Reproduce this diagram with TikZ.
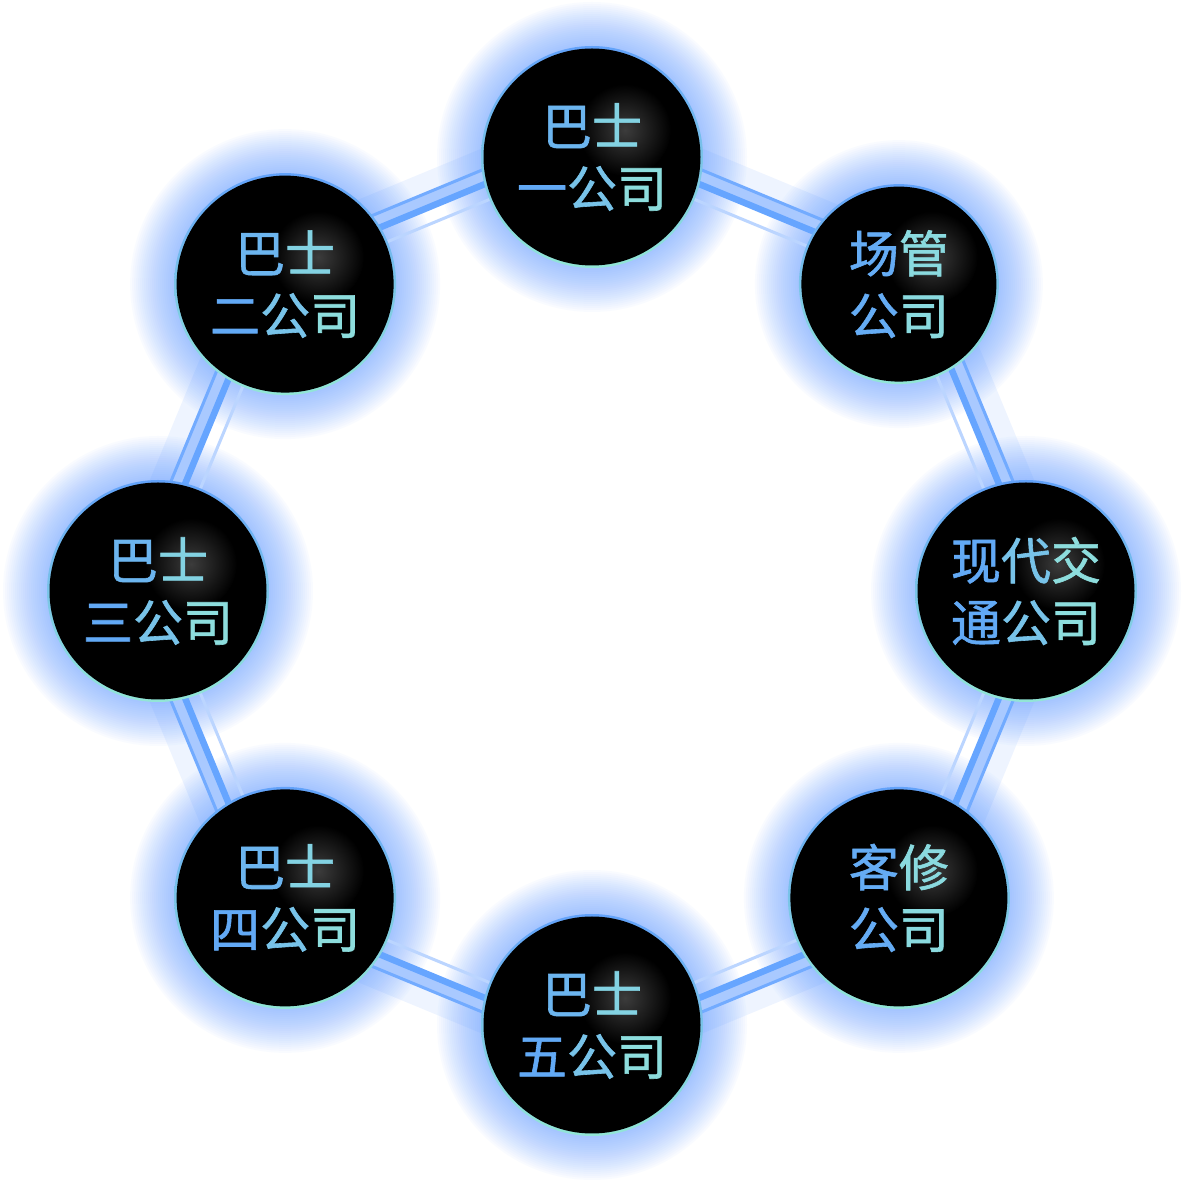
\documentclass[tikz,border=0pt]{standalone}
\usepackage{fontspec}
\newfontfamily\cjk{Noto Sans CJK SC}[FakeBold=1.2]
\usetikzlibrary{calc}
\pgfdeclarelayer{glow}
\pgfdeclarelayer{band}
\pgfsetlayers{glow,band,main}
\definecolor{glowblue}{HTML}{5C9BFF}
\definecolor{thickblue}{HTML}{66A5FF}
\definecolor{thinblue}{HTML}{72ABFF}
\definecolor{lightline}{HTML}{BBD5FF}
\definecolor{bandfill}{HTML}{A9C9FF}
\definecolor{txtblue}{HTML}{60A6F6}
\definecolor{txtteal}{HTML}{8FE0DC}
\definecolor{ringtop}{HTML}{62A2FA}
\definecolor{ringbot}{HTML}{92E6D6}
\definecolor{hilite}{HTML}{3C3C3C}
\newcommand\grad[2]{\textcolor{txtteal!#1!txtblue}{#2}}
\tikzset{
  label text/.style={circle,inner sep=0pt,align=center,
    font=\cjk\fontsize{50}{62}\selectfont},
  glowring/.style={fill=glowblue,opacity=.03},
  bandfillstyle/.style={fill=bandfill},
  thinline/.style={draw=thinblue,line width=3pt},
  thickline/.style={draw=thickblue,line width=6.5pt},
  innerline/.style={draw=lightline,line width=3pt},
}
\begin{document}
\begin{tikzpicture}[x=1pt,y=1pt]
\useasboundingbox (0,0) rectangle (1184,1184);
\begin{pgfonlayer}{glow}
\fill[white] (0,0) rectangle (1184,1184);
\end{pgfonlayer}
\coordinate (C) at (592,593);
\foreach \i/\a/\r/\lbl in {
  0/90/111/{\grad{25}{巴}\grad{75}{士}\\\grad{5}{一}\grad{50}{公}\grad{95}{司}},
  1/45/100/{\grad{10}{场}\grad{90}{管}\\\grad{10}{公}\grad{90}{司}},
  2/0/111/{\grad{5}{现}\grad{50}{代}\grad{95}{交}\\\grad{5}{通}\grad{50}{公}\grad{95}{司}},
  3/-45/111/{\grad{10}{客}\grad{90}{修}\\\grad{10}{公}\grad{90}{司}},
  4/-90/111/{\grad{25}{巴}\grad{75}{士}\\\grad{5}{五}\grad{50}{公}\grad{95}{司}},
  5/-135/111/{\grad{25}{巴}\grad{75}{士}\\\grad{5}{四}\grad{50}{公}\grad{95}{司}},
  6/180/111/{\grad{25}{巴}\grad{75}{士}\\\grad{5}{三}\grad{50}{公}\grad{95}{司}},
  7/135/111/{\grad{25}{巴}\grad{75}{士}\\\grad{5}{二}\grad{50}{公}\grad{95}{司}}}{
  \coordinate (p) at ($(C)+(\a:434)$);
  \begin{pgfonlayer}{glow}
    \foreach \k in {2,4,...,44} \fill[glowring] (p) circle (\r+\k);
  \end{pgfonlayer}
  \shade[top color=ringtop,bottom color=ringbot] (p) circle (\r);
  \fill[black] (p) circle (\r-2.5);
  \shade[inner color=hilite,outer color=black] ($(p)+(33,27)$) circle (46);
  \node[label text,minimum size=2*\r] (n\i) at (p) {\lbl};
}
\begin{pgfonlayer}{band}
\foreach \i/\j in {0/1,1/2,2/3,3/4,4/5,5/6,6/7,7/0}{
  \fill[glowblue,opacity=.10] ($(n\i)!30pt!90:(n\j)$) -- ($(n\j)!30pt!-90:(n\i)$) -- ($(n\j)!50pt!-90:(n\i)$) -- ($(n\i)!50pt!90:(n\j)$) -- cycle;
  \fill[bandfillstyle] ($(n\i)!16pt!90:(n\j)$) -- ($(n\j)!16pt!-90:(n\i)$) -- ($(n\j)!30pt!-90:(n\i)$) -- ($(n\i)!30pt!90:(n\j)$) -- cycle;
  \draw[innerline] (n\i.center) -- (n\j.center);
  \draw[thickline] ($(n\i)!16pt!90:(n\j)$) -- ($(n\j)!16pt!-90:(n\i)$);
  \draw[thinline] ($(n\i)!30pt!90:(n\j)$) -- ($(n\j)!30pt!-90:(n\i)$);
}
\end{pgfonlayer}
\end{tikzpicture}
\end{document}
